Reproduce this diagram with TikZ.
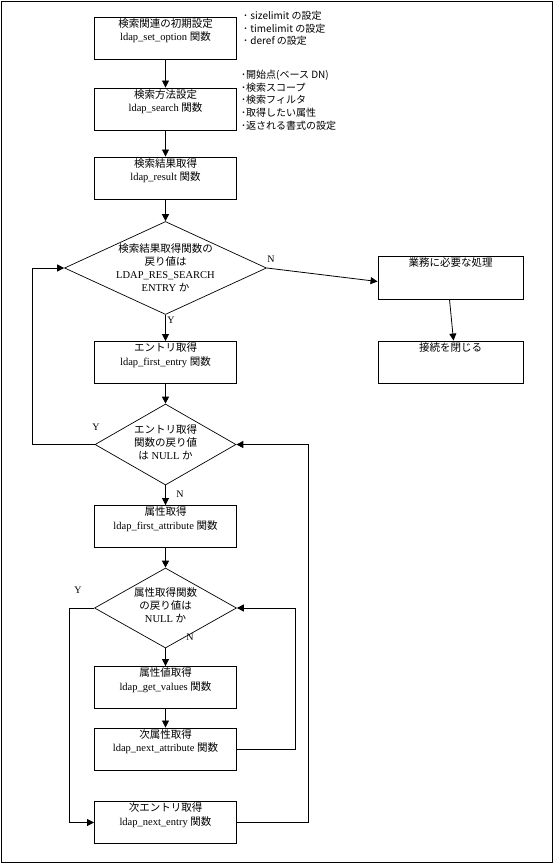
\documentclass[tikz,border=0pt]{standalone}
\usepackage{fontspec}
\setmainfont{Liberation Serif}
\newfontfamily\jpfont{Noto Sans CJK JP}
\newcommand{\jtxt}[1]{{\jpfont #1}}
\usetikzlibrary{shapes.geometric,arrows.meta}

\begin{document}
\begin{tikzpicture}[x=1pt, y=-1pt,
    procbox/.style={rectangle, draw, line width=0.9pt, minimum width=142pt,
        minimum height=42pt, inner sep=0pt},
    decision/.style={diamond, draw, line width=0.7pt, inner sep=0pt},
    boxtxt/.style={anchor=north, align=center, inner sep=1.5pt,
        font=\fontsize{10.5}{13.5}\selectfont},
    dtxt/.style={align=center, inner sep=0pt, font=\fontsize{10.5}{13}\selectfont},
    note/.style={anchor=north west, align=left, inner sep=1pt,
        font=\jpfont\fontsize{10}{12.6}\selectfont},
    yn/.style={inner sep=0pt, font=\fontsize{10}{12}\selectfont},
    arr/.style={-{Triangle[length=7pt,width=7pt]}, line width=0.8pt}
]
    \useasboundingbox (0,0) rectangle (554,864);
    \draw[line width=1pt] (1.5,1.5) rectangle (552.5,862.5);

    \node[procbox] (init) at (165.5,38) {};
    \node[boxtxt] (initT) at (init.north)
        {\jtxt{検索関連の初期設定}\\ldap\_set\_option \jtxt{関数}};
    \node[procbox] (search) at (165.5,109) {};
    \node[boxtxt] (searchT) at (search.north)
        {\jtxt{検索方法設定}\\ldap\_search \jtxt{関数}};
    \node[procbox] (result) at (165.5,178) {};
    \node[boxtxt] (resultT) at (result.north)
        {\jtxt{検索結果取得}\\ldap\_result \jtxt{関数}};

    \node[decision, minimum width=202pt, minimum height=93pt] (d1) at (165.5,268) {};
    \node[dtxt] (d1T) at (d1)
        {\jtxt{検索結果取得関数の}\\\jtxt{戻り値は}\\LDAP\_RES\_SEARCH\\ENTRY \jtxt{か}};

    \node[procbox, minimum width=145pt, minimum height=43pt] (work) at (450.5,277.5) {};
    \node[boxtxt] (workT) at (work.north) {\jtxt{業務に必要な処理}};
    \node[procbox, minimum width=145pt] (close) at (450.5,362) {};
    \node[boxtxt] (closeT) at (close.north) {\jtxt{接続を閉じる}};

    \node[procbox] (fentry) at (165.5,362.5) {};
    \node[boxtxt] (fentryT) at (fentry.north)
        {\jtxt{エントリ取得}\\ldap\_first\_entry \jtxt{関数}};

    \node[decision, minimum width=141pt, minimum height=81pt] (d2) at (165.5,444.5) {};
    \node[dtxt, yshift=2pt] (d2T) at (d2)
        {\jtxt{エントリ取得}\\\jtxt{関数の戻り値}\\\jtxt{は} NULL \jtxt{か}};

    \node[procbox] (fattr) at (165.5,526.5) {};
    \node[boxtxt] (fattrT) at (fattr.north)
        {\jtxt{属性取得}\\ldap\_first\_attribute \jtxt{関数}};

    \node[decision, minimum width=142pt, minimum height=80pt] (d3) at (165.5,608) {};
    \node[dtxt, yshift=3pt] (d3T) at (d3)
        {\jtxt{属性取得関数}\\\jtxt{の戻り値は}\\NULL \jtxt{か}};

    \node[procbox] (getval) at (165.5,687.5) {};
    \node[boxtxt] (getvalT) at (getval.north)
        {\jtxt{属性値取得}\\ldap\_get\_values \jtxt{関数}};
    \node[procbox] (nattr) at (165.5,749) {};
    \node[boxtxt] (nattrT) at (nattr.north)
        {\jtxt{次属性取得}\\ldap\_next\_attribute \jtxt{関数}};
    \node[procbox] (nentry) at (165.5,822.5) {};
    \node[boxtxt] (nentryT) at (nentry.north)
        {\jtxt{次エントリ取得}\\ldap\_next\_entry \jtxt{関数}};

    \node[note] (optnote) at (242,10)
        {･ sizelimit の設定\\･ timelimit の設定\\･ deref の設定};
    \node[note] (srchnote) at (240,69)
        {･開始点(ベース DN)\\･検索スコープ\\･検索フィルタ\\･取得したい属性\\･返される書式の設定};

    \draw[arr] (init) -- (search);
    \draw[arr] (search) -- (result);
    \draw[arr] (result) -- (d1);
    \draw[arr] (d1.east) -- ([yshift=-4pt]work.west);
    \draw[arr] ([xshift=-1pt]work.south) -- ([xshift=3pt]close.north);
    \draw[arr] (d1) -- (fentry);
    \draw[arr] (fentry) -- (d2);
    \draw[arr] (d2.west) -- ++(-62,0) |- (d1.west);
    \draw[arr] (d2) -- (fattr);
    \draw[arr] (fattr) -- (d3);
    \draw[arr] (d3.west) -- ++(-25,0) |- (nentry.west);
    \draw[arr] (d3) -- (getval);
    \draw[arr] (getval) -- (nattr);
    \draw[arr] (nattr.east) -- ++(58,0) |- (d3.east);
    \draw[arr] (nentry.east) -- ++(71,0) |- (d2.east);

    \node[yn] (n1) at (271,259) {N};
    \node[yn] (y1) at (171,320) {Y};
    \node[yn] (y2) at (96,427) {Y};
    \node[yn] (n2) at (180,494) {N};
    \node[yn] (y3) at (78,590) {Y};
    \node[yn] (n3) at (190,637) {N};
\end{tikzpicture}
\end{document}
